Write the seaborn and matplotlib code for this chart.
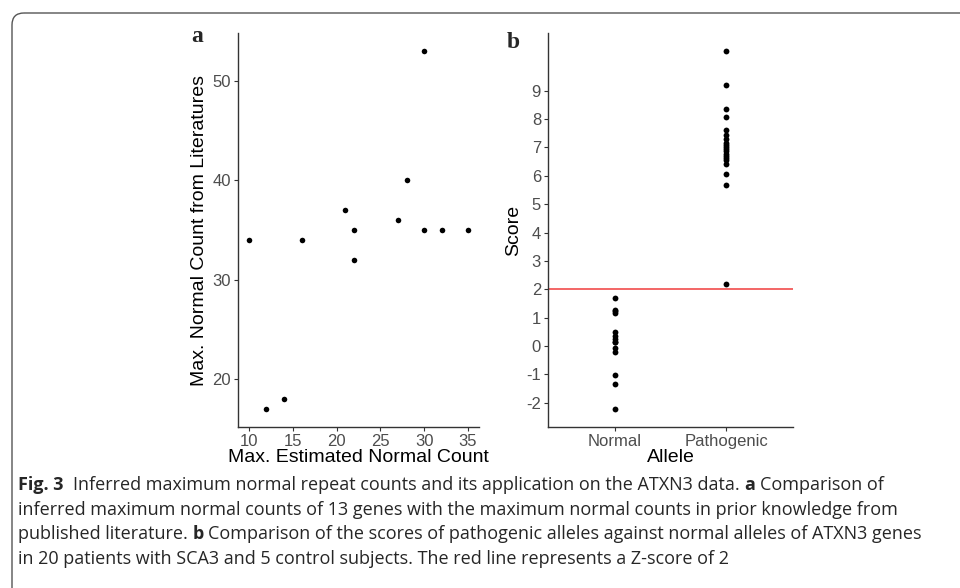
import numpy as np
import pandas as pd
import seaborn as sns
import matplotlib.pyplot as plt
from matplotlib.patches import FancyBboxPatch

# Panel a: estimated vs literature maximum normal counts (13 genes)
est_counts = [10, 12, 14, 16, 21, 22, 22, 27, 28, 30, 30, 32, 35]
lit_counts = [34, 17, 18, 34, 37, 35, 32, 36, 40, 53, 35, 35, 35]

# Panel b: ATXN3 allele scores
allele_names = ["Normal", "Pathogenic"]
normal_scores = [1.68, 1.27, 1.18, 1.22, 0.50, 0.36, 0.24, 0.13, 0.13, -0.05,
                 -0.20, -1.02, -1.32, -2.22]
pathogenic_scores = [10.40, 9.19, 8.37, 8.06, 7.60, 7.45, 7.30, 7.16, 7.02, 6.95,
                     6.87, 6.78, 6.69, 6.57, 6.40, 6.08, 5.68, 7.10, 6.62, 2.18]
z_cut = 2

a_ticks_x = [10, 15, 20, 25, 30, 35]
a_ticks_y = [20, 30, 40, 50]
b_ticks_y = list(range(-2, 10))

caption_lines = [
    [("Fig. 3", "bold"), ("  Inferred maximum normal repeat counts and its application on the ATXN3 data. ", "normal"),
     ("a", "bold"), (" Comparison of", "normal")],
    [("inferred maximum normal counts of 13 genes with the maximum normal counts in prior knowledge from", "normal")],
    [("published literature. ", "normal"), ("b", "bold"),
     (" Comparison of the scores of pathogenic alleles against normal alleles of ATXN3 genes", "normal")],
    [("in 20 patients with SCA3 and 5 control subjects. The red line represents a Z-score of 2", "normal")],
]

df_a = pd.DataFrame({"est": est_counts, "lit": lit_counts})
df_b = pd.DataFrame({
    "allele": ["Normal"] * len(normal_scores) + ["Pathogenic"] * len(pathogenic_scores),
    "score": normal_scores + pathogenic_scores,
})

sns.set_style("ticks")
plt.rcParams["font.family"] = ["Liberation Sans", "DejaVu Sans"]
plt.rcParams["axes.unicode_minus"] = False

W, H = 960, 588
fig = plt.figure(figsize=(W / 100, H / 100), dpi=100)

def px_axes(x0, y0, x1, y1):
    return fig.add_axes([x0 / W, 1 - y1 / H, (x1 - x0) / W, (y1 - y0) / H])

spine_col = "#333333"
tick_col = "#4D4D4D"

def style_axes(ax):
    sns.despine(ax=ax)
    for s in ["left", "bottom"]:
        ax.spines[s].set_color(spine_col)
        ax.spines[s].set_linewidth(1.0)
    ax.tick_params(colors=spine_col, labelcolor=tick_col, labelsize=12,
                   length=3, width=0.8, pad=2)
    ax.xaxis.label.set_color("black")
    ax.yaxis.label.set_color("black")

# panel a
ax1 = px_axes(238, 33, 479, 427)
sns.scatterplot(data=df_a, x="est", y="lit", ax=ax1, color="black", s=16, linewidth=0)
ax1.set_xlim(8.75, 36.25)
ax1.set_ylim(15.2, 54.8)
ax1.set_xticks(a_ticks_x)
ax1.set_yticks(a_ticks_y)
ax1.set_xlabel("Max. Estimated Normal Count", fontsize=14, labelpad=0)
ax1.set_ylabel("Max. Normal Count from Literatures", fontsize=14, labelpad=3)
style_axes(ax1)

# panel b
ax2 = px_axes(548, 33, 793, 427)
sns.stripplot(data=df_b, x="allele", y="score", order=allele_names, ax=ax2,
              jitter=False, color="black", size=4.2, linewidth=0)
ax2.axhline(z_cut, color="#F03C3C", lw=1.1, zorder=1)
ax2.set_xlim(-0.6, 1.6)
ax2.set_ylim(-2.85, 11.03)
ax2.set_yticks(b_ticks_y)
ax2.set_xlabel("Allele", fontsize=14, labelpad=0)
ax2.set_ylabel("Score", fontsize=14, labelpad=3)
style_axes(ax2)

# overlay in pixel coords for frame, panel letters and caption
ov = fig.add_axes([0, 0, 1, 1], zorder=-1)
ov.set_xlim(0, W)
ov.set_ylim(H, 0)
ov.axis("off")
ov.add_patch(FancyBboxPatch((12, 13), 1100, 800, boxstyle="round,pad=0,rounding_size=12",
                            fill=False, edgecolor="#555555", lw=1.0))
ov2 = fig.add_axes([0, 0, 1, 1], zorder=5)
ov2.set_xlim(0, W)
ov2.set_ylim(H, 0)
ov2.axis("off")
ov2.text(197, 37, "a", family="Liberation Serif", weight="bold", fontsize=17, ha="center", va="center")
ov2.text(513, 42, "b", family="Liberation Serif", weight="bold", fontsize=17, ha="center", va="center")

renderer = fig.canvas.get_renderer()
cap_font = ["Open Sans", "Liberation Sans"]

def text_w(s, weight, size):
    t = ov2.text(0, 0, s, family=cap_font, fontsize=size, weight=weight)
    w = t.get_window_extent(renderer).width
    t.remove()
    return w

def line_w(line, size):
    sp = text_w("a a", "normal", size) - text_w("aa", "normal", size)
    total = 0
    for run, weight in line:
        lead = len(run) - len(run.lstrip(" "))
        trail = len(run) - len(run.rstrip(" "))
        total += (lead + trail) * sp + text_w(run.strip(" "), weight, size)
    return total

# size the caption so the third line ends where the reference one does
cap_size = 12 * (920 - 18) / line_w(caption_lines[2], 12)
space_w = text_w("a a", "normal", cap_size) - text_w("aa", "normal", cap_size)

y = 485
for line in caption_lines:
    x = 18
    for run, weight in line:
        lead = len(run) - len(run.lstrip(" "))
        trail = len(run) - len(run.rstrip(" "))
        x += lead * space_w
        core = run.strip(" ")
        ov2.text(x, y, core, family=cap_font, fontsize=cap_size, weight=weight,
                 ha="left", va="center")
        x += text_w(core, weight, cap_size) + trail * space_w
    y += 24.6

fig.savefig("out.png", dpi=100)
